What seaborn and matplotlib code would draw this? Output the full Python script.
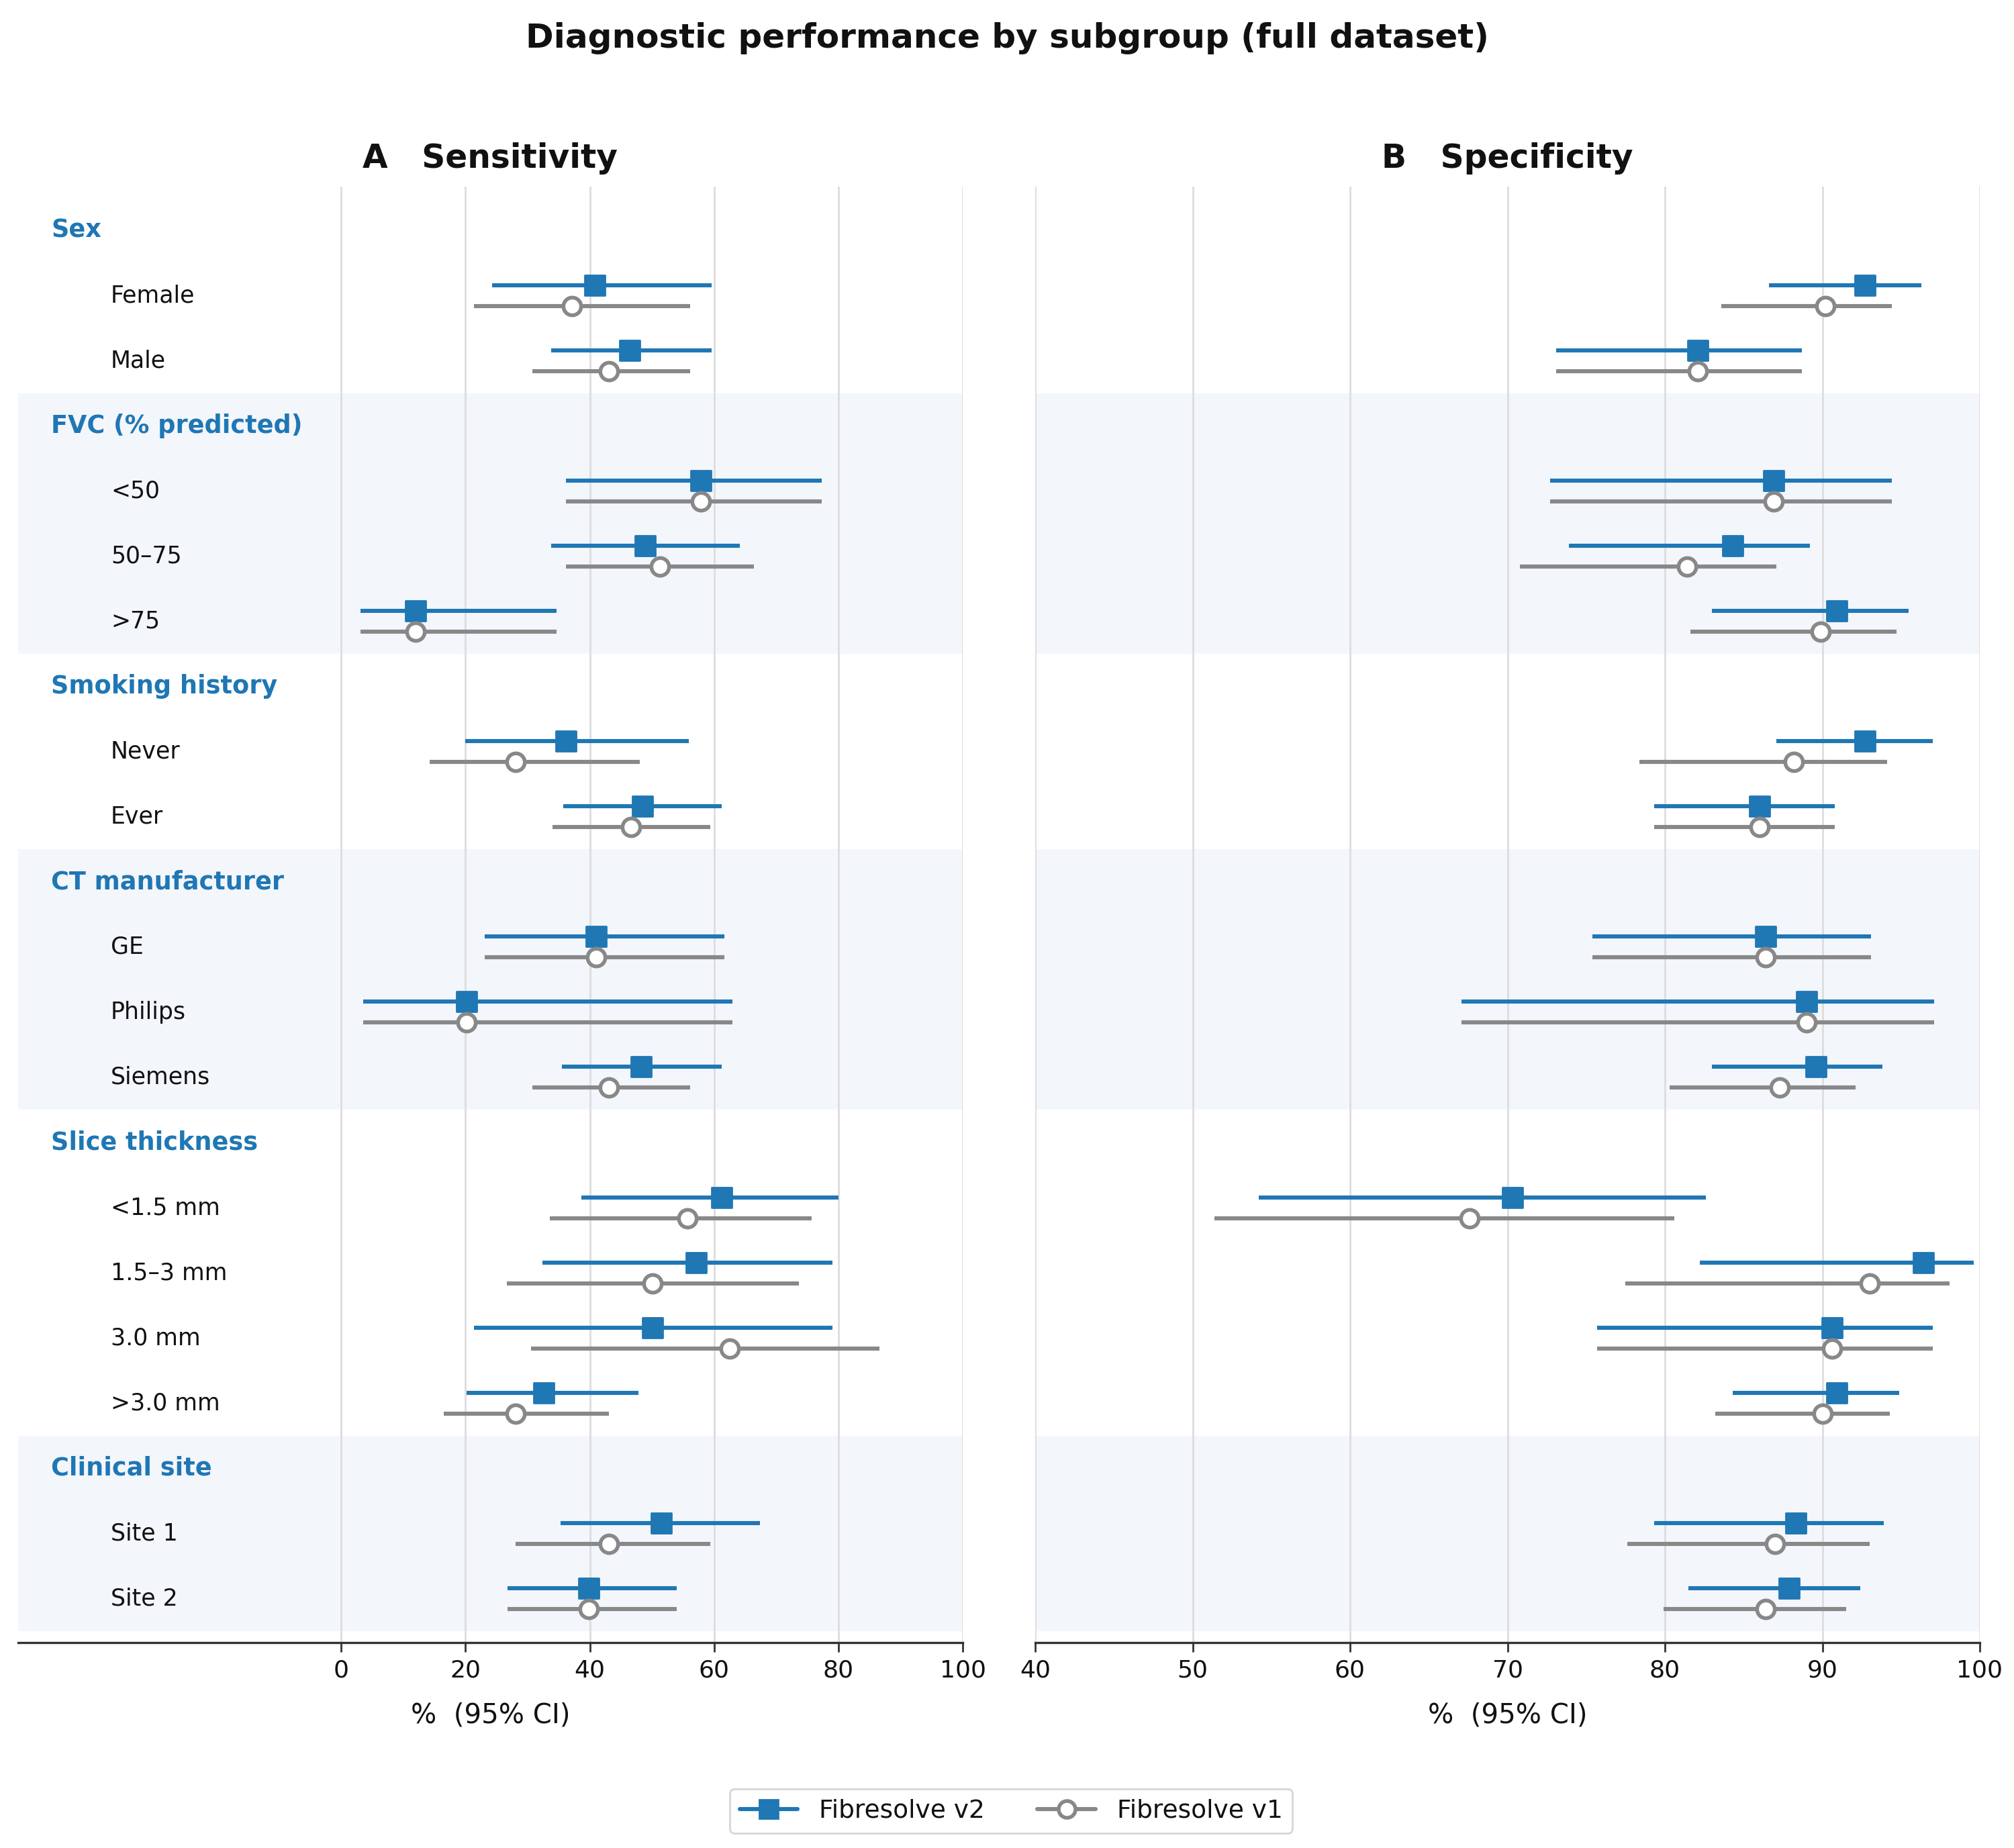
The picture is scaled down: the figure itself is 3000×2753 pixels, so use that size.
import numpy as np
import pandas as pd
import matplotlib.pyplot as plt
import seaborn as sns
from matplotlib.lines import Line2D

# Subgroup structure
groups = ["Sex", "FVC (% predicted)", "Smoking history", "CT manufacturer",
          "Slice thickness", "Clinical site"]
subgroups = [["Female", "Male"],
             ["<50", "50–75", ">75"],
             ["Never", "Ever"],
             ["GE", "Philips", "Siemens"],
             ["<1.5 mm", "1.5–3 mm", "3.0 mm", ">3.0 mm"],
             ["Site 1", "Site 2"]]

# Sensitivity (%), Fibresolve v2
sens_v2 = [40.8, 46.4, 57.9, 48.9, 12.0, 36.1, 48.5, 41.0, 20.2, 48.2, 61.2, 57.1, 50.1, 32.6, 51.5, 39.8]
sens_v2_lo = [24.3, 33.8, 36.1, 33.8, 3.1, 20.0, 35.7, 23.1, 3.5, 35.5, 38.6, 32.4, 21.4, 20.2, 35.3, 26.8]
sens_v2_hi = [59.6, 59.6, 77.3, 64.1, 34.6, 55.9, 61.2, 61.6, 62.9, 61.2, 80.0, 79.0, 79.0, 47.8, 67.4, 54.0]
# Sensitivity (%), Fibresolve v1
sens_v1 = [37.1, 43.1, 57.9, 51.3, 12.0, 28.0, 46.6, 41.0, 20.2, 43.1, 55.7, 50.1, 62.5, 28.0, 43.1, 39.8]
sens_v1_lo = [21.4, 30.7, 36.1, 36.1, 3.1, 14.2, 34.0, 23.1, 3.5, 30.7, 33.6, 26.6, 30.5, 16.5, 28.0, 26.8]
sens_v1_hi = [56.1, 56.1, 77.3, 66.4, 34.6, 48.0, 59.4, 61.6, 62.9, 56.1, 75.7, 73.6, 86.6, 43.1, 59.4, 54.0]

# Specificity (%), Fibresolve v2
spec_v2 = [92.7, 82.1, 86.9, 84.3, 90.9, 92.7, 86.0, 86.4, 89.0, 89.6, 70.3, 96.4, 90.6, 90.9, 88.3, 87.9]
spec_v2_lo = [86.6, 73.1, 72.7, 73.9, 83.0, 87.1, 79.3, 75.4, 67.1, 83.0, 54.2, 82.2, 75.7, 84.3, 79.3, 81.5]
spec_v2_hi = [96.3, 88.7, 94.4, 89.2, 95.5, 97.0, 90.8, 93.1, 97.1, 93.8, 82.6, 99.6, 97.0, 94.9, 93.9, 92.4]
# Specificity (%), Fibresolve v1
spec_v1 = [90.2, 82.1, 86.9, 81.4, 89.9, 88.2, 86.0, 86.4, 89.0, 87.3, 67.6, 93.0, 90.6, 90.0, 87.0, 86.4]
spec_v1_lo = [83.6, 73.1, 72.7, 70.8, 81.6, 78.4, 79.3, 75.4, 67.1, 80.3, 51.4, 77.5, 75.7, 83.2, 77.6, 79.9]
spec_v1_hi = [94.4, 88.7, 94.4, 87.1, 94.7, 94.1, 90.8, 93.1, 97.1, 92.1, 80.6, 98.1, 97.0, 94.3, 93.0, 91.5]

models = ["Fibresolve v2", "Fibresolve v1"]
BLUE = "#1f77b4"
GRAY = "#888888"
BAND = "#f3f6fb"
INK = "#111111"

# row positions: a header row per group, then one row per subgroup
header_rows = []
label_rows = []
bands = []
r = 0
for gi, g in enumerate(groups):
    start = r
    header_rows.append(r)
    r += 1
    for s in subgroups[gi]:
        label_rows.append(r)
        r += 1
    if gi % 2 == 1:
        bands.append((start - 0.5, r - 0.5))
n_rows = r
labels = [s for sub in subgroups for s in sub]

def long_df(v2, v2lo, v2hi, v1, v1lo, v1hi):
    parts = []
    for m, est, lo, hi, off in [(models[0], v2, v2lo, v2hi, -0.16),
                                (models[1], v1, v1lo, v1hi, 0.16)]:
        parts.append(pd.DataFrame({"label": labels, "model": m, "est": est,
                                   "lo": lo, "hi": hi,
                                   "y": np.array(label_rows) + off}))
    return pd.concat(parts, ignore_index=True)

sens_df = long_df(sens_v2, sens_v2_lo, sens_v2_hi, sens_v1, sens_v1_lo, sens_v1_hi)
spec_df = long_df(spec_v2, spec_v2_lo, spec_v2_hi, spec_v1, spec_v1_lo, spec_v1_hi)

sns.set_style("white")
plt.rcParams['font.family'] = ['DejaVu Sans']
plt.rcParams['text.color'] = INK
plt.rcParams['axes.labelcolor'] = INK
plt.rcParams['xtick.color'] = INK

fig = plt.figure(figsize=(15, 13.765), dpi=200)
ax1 = fig.add_axes([0.009, 0.111, 0.469, 0.788])
ax2 = fig.add_axes([0.514, 0.111, 0.469, 0.788])

style = {models[0]: dict(marker="s", s=110, color=BLUE, edgecolor=BLUE, linewidth=1),
         models[1]: dict(marker="o", s=90, color="white", edgecolor=GRAY, linewidth=2)}
line_col = {models[0]: BLUE, models[1]: GRAY}

for ax, df, xlim, ticks, title in [
        (ax1, sens_df, (-52, 100), [0, 20, 40, 60, 80, 100], "A   Sensitivity"),
        (ax2, spec_df, (40, 100), [40, 50, 60, 70, 80, 90, 100], "B   Specificity")]:
    for lo, hi in bands:
        ax.axhspan(lo, hi, color=BAND, zorder=0, lw=0)
    for m in models:
        d = df[df["model"] == m]
        ax.hlines(d["y"], d["lo"], d["hi"], color=line_col[m], lw=2.2, zorder=2)
        sns.scatterplot(data=d, x="est", y="y", ax=ax, legend=False, zorder=3,
                        **style[m])
    ax.set_xlim(*xlim)
    ax.set_ylim(n_rows - 0.32, -0.67)
    ax.set_xticks(ticks)
    ax.set_yticks([])
    ax.set_ylabel("")
    ax.grid(axis="x", color="#dddddd", lw=1, zorder=1)
    ax.set_axisbelow(True)
    for sp in ["top", "left", "right"]:
        ax.spines[sp].set_visible(False)
    ax.spines["bottom"].set_color("#333333")
    ax.spines["bottom"].set_linewidth(1.2)
    ax.tick_params(axis="x", bottom=True, length=5, width=1, color="#333333",
                   labelsize=13)
    ax.set_xlabel("%  (95% CI)", fontsize=14.5, labelpad=11)
    ax.set_title(title, fontsize=17.5, fontweight="bold", pad=10)

# group headers and subgroup labels on the left panel
tr = ax1.get_yaxis_transform()
for g, yr in zip(groups, header_rows):
    ax1.text(0.035, yr, g, transform=tr, fontsize=13.2, fontweight="bold",
             color=BLUE, va="center", ha="left")
for lab, yr in zip(labels, label_rows):
    ax1.text(0.098, yr, lab, transform=tr, fontsize=12.5, va="center", ha="left")

fig.suptitle("Diagnostic performance by subgroup (full dataset)", fontsize=18,
             fontweight="bold", y=0.988, va="top")

handles = [Line2D([0], [0], color=BLUE, lw=2.2, marker="s", markersize=10,
                  markerfacecolor=BLUE, markeredgecolor=BLUE),
           Line2D([0], [0], color=GRAY, lw=2.2, marker="o", markersize=9,
                  markerfacecolor="white", markeredgecolor=GRAY, markeredgewidth=2)]
fig.legend(handles, models, loc="center", bbox_to_anchor=(0.502, 0.02), ncol=2,
           fontsize=13.5, frameon=True, edgecolor="#cccccc", fancybox=True,
           handlelength=2.3, handletextpad=0.85, columnspacing=2.1)

fig.savefig("out.png", dpi=200, facecolor="white")
